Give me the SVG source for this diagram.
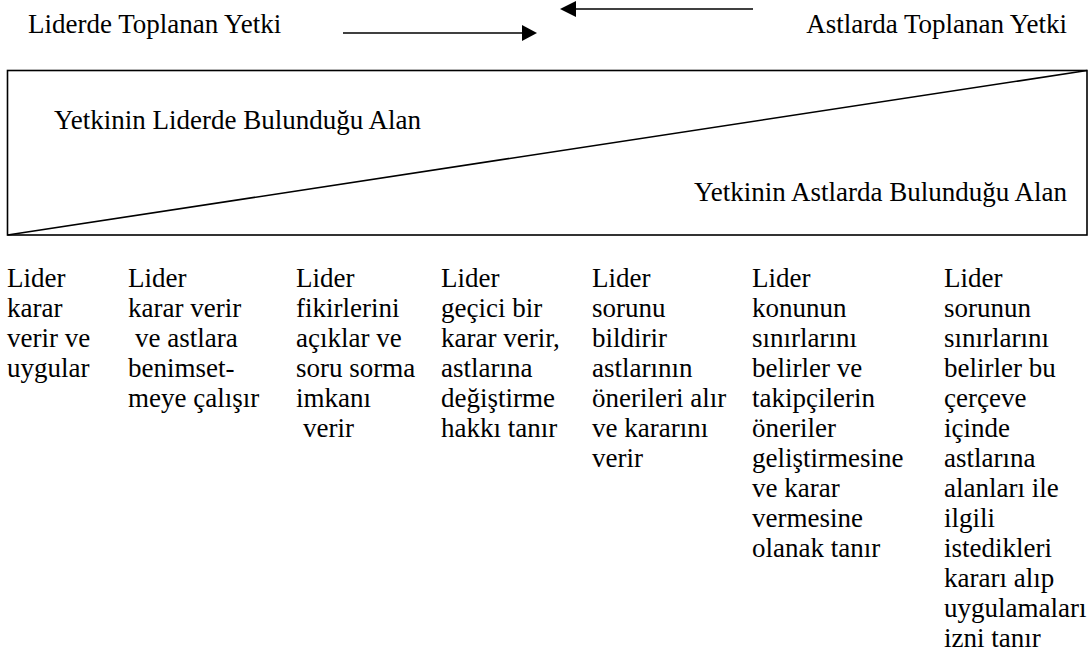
<svg xmlns="http://www.w3.org/2000/svg" width="1091" height="664" viewBox="0 0 1091 664">
<style>
text{font-family:'Liberation Serif','Times New Roman',serif;font-size:27px;fill:#000}
.ln{stroke:#000;stroke-width:1.6;fill:none}
.end{text-anchor:end}
</style>
<rect width="1091" height="664" fill="#fff"/>
<g id="top-labels">
<text x="28" y="33">Liderde Toplanan Yetki</text>
<text class="end" x="1067" y="33">Astlarda Toplanan Yetki</text>
</g>
<g id="connectors">
<line class="ln" x1="343" y1="33" x2="523" y2="33"/>
<polygon points="522,25 537,33 522,41" fill="#000"/>
<line class="ln" x1="575" y1="9" x2="753" y2="9"/>
<polygon points="576,1 560,9 576,17" fill="#000"/>
</g>
<g id="authority-box">
<rect class="ln" x="7.5" y="70.5" width="1079.5" height="164.5" stroke-width="1.8"/>
<line class="ln" x1="7.5" y1="235" x2="1087" y2="70.5"/>
<text x="54" y="129">Yetkinin Liderde Bulunduğu Alan</text>
<text class="end" x="1067" y="201">Yetkinin Astlarda Bulunduğu Alan</text>
</g>
<g id="col1">
<text x="7" y="287">Lider</text>
<text x="7" y="317">karar</text>
<text x="7" y="347">verir ve</text>
<text x="7" y="377">uygular</text>
</g>
<g id="col2">
<text x="128" y="287">Lider</text>
<text x="128" y="317">karar verir</text>
<text x="135" y="347">ve astlara</text>
<text x="128" y="377">benimset-</text>
<text x="128" y="407">meye çalışır</text>
</g>
<g id="col3">
<text x="296" y="287">Lider</text>
<text x="296" y="317">fikirlerini</text>
<text x="296" y="347">açıklar ve</text>
<text x="296" y="377">soru sorma</text>
<text x="296" y="407">imkanı</text>
<text x="303" y="437">verir</text>
</g>
<g id="col4">
<text x="441" y="287">Lider</text>
<text x="441" y="317">geçici bir</text>
<text x="441" y="347">karar verir,</text>
<text x="441" y="377">astlarına</text>
<text x="441" y="407">değiştirme</text>
<text x="441" y="437">hakkı tanır</text>
</g>
<g id="col5">
<text x="592" y="287">Lider</text>
<text x="592" y="317">sorunu</text>
<text x="592" y="347">bildirir</text>
<text x="592" y="377">astlarının</text>
<text x="592" y="407">önerileri alır</text>
<text x="592" y="437">ve kararını</text>
<text x="592" y="467">verir</text>
</g>
<g id="col6">
<text x="752" y="287">Lider</text>
<text x="752" y="317">konunun</text>
<text x="752" y="347">sınırlarını</text>
<text x="752" y="377">belirler ve</text>
<text x="752" y="407">takipçilerin</text>
<text x="752" y="437">öneriler</text>
<text x="752" y="467">geliştirmesine</text>
<text x="752" y="497">ve karar</text>
<text x="752" y="527">vermesine</text>
<text x="752" y="557">olanak tanır</text>
</g>
<g id="col7">
<text x="944" y="287">Lider</text>
<text x="944" y="317">sorunun</text>
<text x="944" y="347">sınırlarını</text>
<text x="944" y="377">belirler bu</text>
<text x="944" y="407">çerçeve</text>
<text x="944" y="437">içinde</text>
<text x="944" y="467">astlarına</text>
<text x="944" y="497">alanları ile</text>
<text x="944" y="527">ilgili</text>
<text x="944" y="557">istedikleri</text>
<text x="944" y="587">kararı alıp</text>
<text x="944" y="617">uygulamaları</text>
<text x="944" y="647">izni tanır</text>
</g>
</svg>
